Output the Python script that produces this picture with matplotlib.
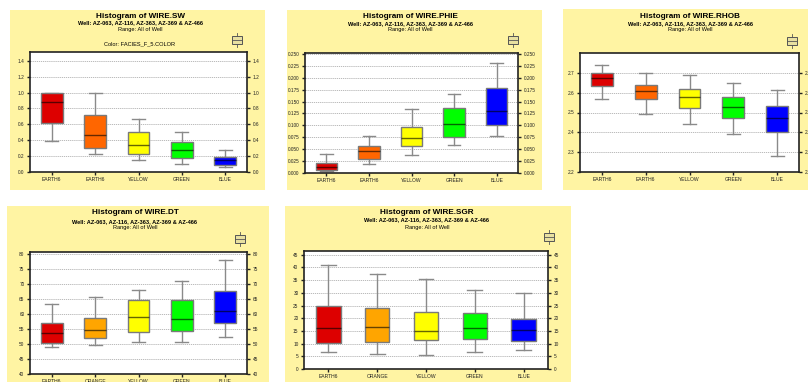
import matplotlib
matplotlib.use("Agg")
import matplotlib.pyplot as plt
from matplotlib.patches import Rectangle
import numpy as np

plt.rcParams['font.family'] = ['Liberation Sans', 'DejaVu Sans']

# ---- data: five-number summaries per facies (low whisker, Q1, median, Q3, high whisker)
facies_top = ["EARTH6", "EARTH6", "YELLOW", "GREEN", "BLUE"]
facies_bottom = ["EARTH6", "ORANGE", "YELLOW", "GREEN", "BLUE"]
colors_top = ["#dd0000", "#ff6600", "#ffff00", "#00ff00", "#0000ff"]
colors_bottom = ["#dd0000", "#ffa500", "#ffff00", "#00ff00", "#0000ff"]

sw_stats = [
    [0.39, 0.62, 0.88, 0.99, 1.00],
    [0.23, 0.30, 0.47, 0.72, 0.99],
    [0.15, 0.23, 0.34, 0.50, 0.67],
    [0.10, 0.18, 0.28, 0.38, 0.50],
    [0.06, 0.09, 0.15, 0.19, 0.28],
]
phie_stats = [
    [0.004, 0.0055, 0.012, 0.022, 0.039],
    [0.019, 0.030, 0.046, 0.057, 0.077],
    [0.037, 0.056, 0.074, 0.097, 0.135],
    [0.058, 0.075, 0.102, 0.136, 0.166],
    [0.077, 0.100, 0.130, 0.179, 0.230],
]
rhob_stats = [
    [2.569, 2.634, 2.673, 2.698, 2.737],
    [2.492, 2.568, 2.610, 2.641, 2.697],
    [2.441, 2.525, 2.580, 2.620, 2.688],
    [2.390, 2.471, 2.529, 2.580, 2.647],
    [2.283, 2.400, 2.471, 2.532, 2.612],
]
dt_stats = [
    [48.8, 50.4, 53.5, 56.9, 63.4],
    [49.6, 51.9, 54.7, 58.5, 65.6],
    [50.5, 54.0, 58.9, 64.6, 68.0],
    [50.7, 54.3, 58.1, 64.4, 70.9],
    [52.4, 57.0, 60.9, 67.4, 77.9],
]
sgr_stats = [
    [6.6, 10.4, 16.2, 24.7, 41.0],
    [6.0, 10.7, 16.7, 24.2, 37.5],
    [5.6, 11.5, 15.1, 22.5, 35.6],
    [6.6, 11.8, 16.2, 22.1, 31.3],
    [7.5, 11.2, 15.3, 19.7, 29.9],
]

sw_ticks = [0.0, 0.2, 0.4, 0.6, 0.8, 1.0, 1.2, 1.4]
phie_ticks = [0.000, 0.025, 0.050, 0.075, 0.100, 0.125, 0.150, 0.175, 0.200, 0.225, 0.250]
rhob_ticks = [2.2, 2.3, 2.4, 2.5, 2.6, 2.7]
dt_ticks = [40, 45, 50, 55, 60, 65, 70, 75, 80]
sgr_ticks = [0, 5, 10, 15, 20, 25, 30, 35, 40, 45]

subtitle = "Well: AZ-063, AZ-116, AZ-363, AZ-369 & AZ-466"
range_txt = "Range: All of Well"

W, H = 808, 382
fig = plt.figure(figsize=(W / 100, H / 100), dpi=100)
fig.patch.set_facecolor("white")

PANEL_BG = "#fff4a3"


def fx(x):
    return x / W


def fy(y):
    return 1 - y / H


def panel(bg_box, plot_box, title_x, title_ys, name, stats, cats, cols,
          ylim, ticks, fmt, icon_xy, color_note=None):
    x0, y0, x1, y1 = bg_box
    fig.patches.append(Rectangle((fx(x0), fy(y1)), fx(x1 - x0), (y1 - y0) / H,
                                 transform=fig.transFigure, facecolor=PANEL_BG,
                                 edgecolor="none", zorder=-5))
    # titles
    fig.text(fx(title_x), fy(title_ys[0]), "Histogram of WIRE." + name,
             ha="center", va="center", fontsize=5.9, fontweight="bold")
    fig.text(fx(title_x), fy(title_ys[1]), subtitle, ha="center", va="center",
             fontsize=4.1, fontweight="bold")
    fig.text(fx(title_x), fy(title_ys[2]), range_txt, ha="center", va="center",
             fontsize=4.1)
    if color_note:
        fig.text(fx(title_x), fy(title_ys[3]), color_note, ha="center",
                 va="center", fontsize=4.1)
    # small box-plot legend glyph
    ix, iy = icon_xy
    fig.patches.append(Rectangle((fx(ix - 5), fy(iy + 4)), fx(10), 8 / H,
                                 transform=fig.transFigure, facecolor="#e8e0a0",
                                 edgecolor="#555555", linewidth=0.7, zorder=3))
    fig.lines.append(plt.Line2D([fx(ix - 5), fx(ix + 5)], [fy(iy), fy(iy)],
                                transform=fig.transFigure, color="#555555",
                                linewidth=0.6, zorder=4))
    fig.lines.append(plt.Line2D([fx(ix), fx(ix)], [fy(iy - 7), fy(iy - 4)],
                                transform=fig.transFigure, color="#555555",
                                linewidth=0.6, zorder=4))
    fig.lines.append(plt.Line2D([fx(ix), fx(ix)], [fy(iy + 4), fy(iy + 7)],
                                transform=fig.transFigure, color="#555555",
                                linewidth=0.6, zorder=4))

    px0, py0, px1, py1 = plot_box
    ax = fig.add_axes([fx(px0), fy(py1), fx(px1 - px0), (py1 - py0) / H])
    ax.set_zorder(1)
    ax.set_facecolor("white")
    bxp = []
    for s in stats:
        bxp.append(dict(whislo=s[0], q1=s[1], med=s[2], q3=s[3], whishi=s[4],
                        fliers=[]))
    pos = np.arange(1, len(cats) + 1)
    res = ax.bxp(bxp, positions=pos, widths=0.5, patch_artist=True,
                 showfliers=False,
                 boxprops=dict(edgecolor="#7a7a7a", linewidth=1.0),
                 whiskerprops=dict(color="#8a8a8a", linewidth=1.0),
                 capprops=dict(color="#8a8a8a", linewidth=1.0),
                 medianprops=dict(color="#000000", alpha=0.6, linewidth=1.0),
                 capwidths=0.3)
    for b, c in zip(res["boxes"], cols):
        b.set_facecolor(c)
        b.set_zorder(3)
    for m in res["medians"]:
        m.set_zorder(4)
    ax.set_xlim(0.5, len(cats) + 0.5)
    ax.set_ylim(*ylim)
    ax.set_yticks(ticks)
    ax.set_yticklabels([fmt.format(t) for t in ticks])
    ax.set_xticks(pos)
    ax.set_xticklabels(cats)
    ax.yaxis.grid(True, linestyle=(0, (1.5, 1.0)), color="#b0b0b0", linewidth=0.6)
    ax.set_axisbelow(True)
    ax.tick_params(axis="y", left=True, right=True, labelleft=True,
                   labelright=True, labelsize=3.4, length=2.5, width=1.0,
                   pad=1.5, colors="#222222")
    ax.tick_params(axis="x", labelsize=3.6, length=2.0, width=1.0, pad=1.5,
                   colors="#222222")
    for sp in ax.spines.values():
        sp.set_linewidth(1.2)
        sp.set_color("#222222")
    return ax


panel((10, 10, 265, 190), (30, 52, 247, 172), 140, (16, 23, 29, 44), "SW",
      sw_stats, facies_top, colors_top, (0, 1.51), sw_ticks, "{:.1f}",
      (237, 40), color_note="Color: FACIES_F_5.COLOR")
panel((287, 10, 542, 190), (305, 53, 518, 173), 410, (16, 24, 30), "PHIE",
      phie_stats, facies_top, colors_top, (0, 0.252), phie_ticks, "{:.3f}",
      (513, 40))
panel((563, 9, 808, 190), (580, 53, 799, 172), 690, (16, 24, 30), "RHOB",
      rhob_stats, facies_top, colors_top, (2.2, 2.8), rhob_ticks, "{:.1f}",
      (792, 41))
panel((7, 206, 269, 382), (30, 252, 247, 374), 135, (213, 222, 228), "DT",
      dt_stats, facies_bottom, colors_bottom, (40, 80.5), dt_ticks, "{:d}",
      (240, 239))
panel((285, 206, 571, 382), (304, 251, 548, 369), 427, (213, 220, 228), "SGR",
      sgr_stats, facies_bottom, colors_bottom, (0, 46.5), sgr_ticks, "{:d}",
      (549, 237))

fig.savefig("out.png", dpi=100)
